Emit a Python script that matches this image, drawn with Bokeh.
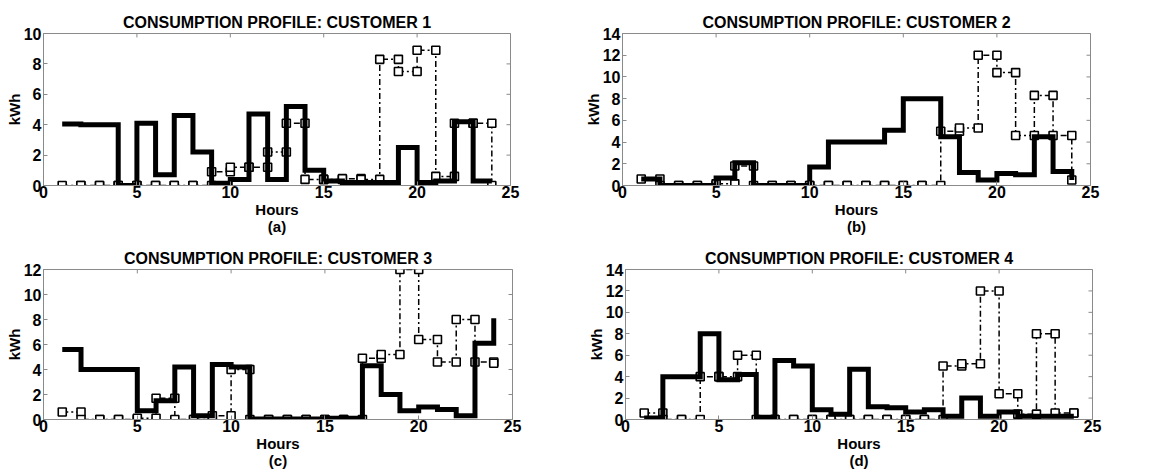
import numpy as np
from bokeh.plotting import figure
from bokeh.layouts import column, row
from bokeh.models import FixedTicker, Range1d
from bokeh.embed import file_html
from bokeh.resources import INLINE

hours = list(range(1, 25))

solid_1 = [4.05, 4.0, 4.0, 0.0, 4.1, 0.7, 4.6, 2.2, 0.15, 0.4, 4.7, 0.4, 5.2, 1.0, 0.3, 0.2, 0.2, 0.2, 2.5, 0.2, 0.3, 4.2, 0.3, 0.3]
dashed_1 = [0, 0, 0, 0, 0, 0, 0, 0, 0.9, 1.2, 1.2, 2.2, 4.1, 0.4, 0.4, 0.45, 0.4, 8.3, 7.5, 8.9, 0.6, 4.1, 4.1, 0]

solid_2 = [0.6, 0, 0, 0, 0.7, 2.1, 0, 0, 0, 1.7, 4.0, 4.0, 4.0, 5.1, 8.0, 8.0, 4.5, 1.2, 0.5, 1.1, 1.0, 4.5, 1.3, 0.5]
dashed_2 = [0.6, 0, 0, 0, 0.15, 1.8, 0, 0, 0, 0, 0, 0, 0, 0, 0, 0, 5.0, 5.3, 12.0, 10.4, 4.6, 8.3, 4.6, 0.5]

solid_3 = [5.6, 4.0, 4.0, 4.0, 0.7, 1.5, 4.2, 0.3, 4.4, 4.2, 0.05, 0.05, 0.05, 0.05, 0.1, 0.1, 4.3, 2.0, 0.7, 1.0, 0.8, 0.3, 6.1, 8.1]
dashed_3 = [0.6, 0, 0, 0, 0.1, 1.7, 0, 0, 0.3, 4.0, 0, 0, 0, 0, 0, 0, 4.9, 5.2, 12.0, 6.4, 4.6, 8.0, 4.6, 4.5]

solid_4 = [0.15, 4.0, 4.0, 8.0, 3.7, 4.2, 0.2, 5.5, 5.0, 0.9, 0.5, 4.7, 1.2, 1.1, 0.7, 0.9, 0.3, 2.0, 0.3, 0.7, 0.3, 0.3, 0.3, 0.3]
dashed_4 = [0.6, 0, 0, 4.0, 4.0, 6.0, 0, 0, 0, 0, 0, 0, 0, 0, 0, 0, 5.0, 5.2, 12.0, 2.4, 0.5, 8.0, 0.6, 0.6]

titles = ["CONSUMPTION PROFILE: CUSTOMER 1", "CONSUMPTION PROFILE: CUSTOMER 2",
          "CONSUMPTION PROFILE: CUSTOMER 3", "CONSUMPTION PROFILE: CUSTOMER 4"]
letters = ["(a)", "(b)", "(c)", "(d)"]
y_max = [10, 14, 12, 14]
x_ticks = [0, 5, 10, 15, 20, 25]
x_label = "Hours"
y_label = "kWh"

FONT = "Liberation Sans"
FRAME = "#8a8a8a"
TICK = 4


def stair(x, y):
    x = np.asarray(x, float)
    y = np.asarray(y, float)
    return np.repeat(x, 2)[1:], np.repeat(y, 2)[:-1]


def make(i, solid, dashed, width, height, left, fw, top, fh):
    ymax = y_max[i]
    y_ticks = list(range(0, ymax + 1, 2))
    p = figure(width=width, height=height, x_range=Range1d(0, 25), y_range=Range1d(0, ymax),
               output_backend="svg", toolbar_location=None,
               min_border_left=left, min_border_right=width - left - fw,
               min_border_top=top, min_border_bottom=height - top - fh)
    p.title.text = titles[i]
    p.title.align = "center"
    p.title.text_font = FONT
    p.title.text_font_size = "16px"
    p.title.text_font_style = "bold"
    p.title.text_color = "black"
    p.title.standoff = 6
    p.xgrid.visible = False
    p.ygrid.visible = False
    p.outline_line_color = FRAME
    p.background_fill_color = "white"

    p.xaxis.ticker = FixedTicker(ticks=x_ticks)
    p.yaxis.ticker = FixedTicker(ticks=y_ticks)
    p.xaxis.axis_label = x_label + "\n" + letters[i]
    p.yaxis.axis_label = y_label
    for ax in (p.xaxis[0], p.yaxis[0]):
        ax.major_label_text_font = FONT
        ax.major_label_text_font_size = "16px"
        ax.major_label_text_font_style = "bold"
        ax.major_label_text_color = "black"
        ax.axis_label_text_font = FONT
        ax.axis_label_text_font_size = "15px"
        ax.axis_label_text_font_style = "bold"
        ax.axis_label_text_color = "black"
        ax.major_tick_in = TICK
        ax.major_tick_out = 0
        ax.minor_tick_line_color = None
        ax.axis_line_color = FRAME
        ax.major_tick_line_color = FRAME
    p.xaxis.axis_label_standoff = 0
    p.yaxis.axis_label_standoff = -2
    p.xaxis.major_label_standoff = 0
    p.yaxis.major_label_standoff = 2
    p.xaxis.axis_label_text_line_height = 1.0

    # tick marks on the top and right edges (box on)
    dy_t = ymax * TICK / fh
    dx_t = 25 * TICK / fw
    p.segment(x0=x_ticks, y0=[ymax] * len(x_ticks), x1=x_ticks, y1=[ymax - dy_t] * len(x_ticks),
              line_color=FRAME, line_width=1)
    p.segment(x0=[25] * len(y_ticks), y0=y_ticks, x1=[25 - dx_t] * len(y_ticks), y1=y_ticks,
              line_color=FRAME, line_width=1)

    dx, dy = stair(hours, dashed)
    p.line(dx, dy, line_color="black", line_width=1.5, line_dash="6 3 2 3")
    p.scatter(dx, dy, marker="square", size=8, line_color="black", line_width=1.6,
              fill_color="white")
    sx, sy = stair(hours, solid)
    p.line(sx, sy, line_color="black", line_width=5, line_join="miter")
    return p


p1 = make(0, solid_1, dashed_1, 578, 237, 43, 467, 33, 154)
p2 = make(1, solid_2, dashed_2, 569, 237, 44, 468, 33, 154)
p3 = make(2, solid_3, dashed_3, 578, 234, 43, 469, 29, 154)
p4 = make(3, solid_4, dashed_4, 569, 234, 47, 467, 32, 151)

layout = column(row(p1, p2), row(p3, p4))
open("out.html", "w").write(file_html(layout, INLINE))
